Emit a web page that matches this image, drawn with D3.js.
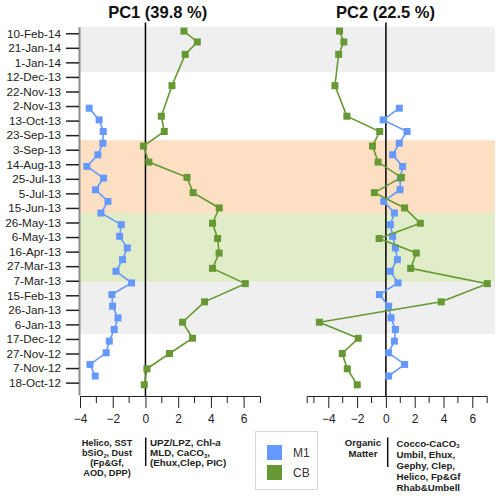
<!DOCTYPE html>
<html><head><meta charset="utf-8">
<script src="https://cdn.jsdelivr.net/npm/d3@7"></script>
<style>body{margin:0;background:#fff}svg{display:block;font-family:"Liberation Sans",Arial,sans-serif}</style>
</head><body><svg id="c" width="500" height="497"></svg>
<script>
// ---- data ----
const tickLabels = ["10-Feb-14","21-Jan-14","1-Jan-14","12-Dec-13","22-Nov-13","2-Nov-13","13-Oct-13","23-Sep-13","3-Sep-13","14-Aug-13","25-Jul-13","5-Jul-13","15-Jun-13","26-May-13","6-May-13","16-Apr-13","27-Mar-13","7-Mar-13","15-Feb-13","26-Jan-13","6-Jan-13","17-Dec-12","27-Nov-12","7-Nov-12","18-Oct-12"];
const m1Dates = ["2013-10-30","2013-10-14","2013-09-28","2013-09-12","2013-08-27","2013-08-11","2013-07-26","2013-07-10","2013-06-24","2013-06-08","2013-05-23","2013-05-07","2013-04-21","2013-04-05","2013-03-20","2013-03-04","2013-02-16","2013-01-31","2013-01-15","2012-12-30","2012-12-14","2012-11-28","2012-11-12","2012-10-27"];
const m1PC1 = [-3.44,-2.83,-2.58,-2.60,-2.91,-3.58,-2.56,-3.05,-2.29,-2.72,-1.48,-1.58,-1.11,-1.40,-1.80,-0.85,-2.05,-2.01,-1.68,-1.91,-2.21,-2.40,-3.39,-3.07];
const m1PC2 = [0.93,-0.19,1.47,0.93,0.47,1.16,1.00,0.98,-0.15,0.59,0.31,0.47,0.66,0.80,0.31,0.84,-0.45,0.19,0.36,0.66,0.59,0.19,1.30,0.19];
const cbDates = ["2014-02-13","2014-01-29","2014-01-12","2013-11-30","2013-10-19","2013-09-28","2013-09-08","2013-08-17","2013-07-27","2013-07-06","2013-06-15","2013-05-25","2013-05-04","2013-04-14","2013-03-24","2013-03-03","2013-02-06","2013-01-09","2012-12-18","2012-11-27","2012-11-06","2012-10-15"];
const cbPC1 = [2.35,3.17,2.43,1.62,0.97,1.15,-0.12,0.21,2.54,2.91,4.51,4.10,4.41,4.50,4.10,6.10,3.61,2.27,2.88,1.47,0.09,-0.07];
const cbPC2 = [-3.22,-2.92,-3.28,-3.54,-2.71,-0.43,-0.93,-0.54,1.07,-0.80,1.30,2.39,-0.47,2.11,1.72,7.04,3.84,-4.62,-1.92,-3.03,-2.68,-1.99];
const bandStart = ["2013-12-19","2013-06-08","2013-03-05","2012-12-24"];
const bandEnd   = ["2014-02-19","2013-09-16","2013-06-08","2013-03-05"];
const bandColor = ["#efefef","#fde0c4","#e1edc8","#efefef"];
const seriesNames = ["M1","CB"];
const seriesColors = ["#6699ff","#669933"];
const titles = ["PC1 (39.8 %)","PC2 (22.5 %)"];

// ---- scales ----
const pd = d3.utcParse("%Y-%m-%d");
const pt = d3.utcParse("%d-%b-%y");
const fmt = d3.utcFormat("%-d-%b-%y");
const y = d3.scaleUtc().domain([pd("2012-10-01"), pd("2014-02-19")]).range([395, 26.7]);
const x1 = d3.scaleLinear().domain([-4, 7]).range([80, 260]);
const x2 = d3.scaleLinear().domain([-5.5, 7]).range([306.7, 486.7]);
const svg = d3.select("#c");

// bands
svg.append("g").selectAll("rect").data(bandStart).join("rect")
  .attr("x", 80).attr("width", 415)
  .attr("y", (d,i) => y(pd(bandEnd[i])))
  .attr("height", (d,i) => y(pd(d)) - y(pd(bandEnd[i])))
  .attr("fill", (d,i) => bandColor[i]);

// y axis
const ya = svg.append("g").attr("transform","translate(79,0)")
  .call(d3.axisLeft(y).tickValues(tickLabels.map(pt)).tickFormat(fmt).tickSize(13).tickPadding(5).tickSizeOuter(0));
ya.select(".domain").attr("stroke","#8c8c8c").attr("stroke-width",2);
ya.selectAll(".tick line").attr("stroke","#222").attr("stroke-width",1.5);
ya.selectAll(".tick text").attr("font-size","11.7px").attr("fill","#222").attr("font-family","Liberation Sans, Arial, sans-serif");

// x axes
function xAxis(sc, majors, minors){
  const g = svg.append("g").attr("transform","translate(0,396)");
  g.call(d3.axisBottom(sc).tickValues(majors).tickSize(12).tickPadding(6).tickSizeOuter(7).tickFormat(d3.format("d")));
  g.selectAll(".tick text").attr("font-size","12px").attr("fill","#222").attr("font-family","Liberation Sans, Arial, sans-serif");
  g.selectAll(".tick line").attr("stroke","#222");
  g.select(".domain").attr("stroke","#222");
  g.append("g").selectAll("line").data(minors).join("line")
    .attr("x1", d => sc(d)).attr("x2", d => sc(d)).attr("y1",0).attr("y2",7).attr("stroke","#222");
}
xAxis(x1, [-4,-2,0,2,4,6], [-3,-1,1,3,5]);
xAxis(x2, [-4,-2,0,2,4,6], [-5,-3,-1,1,3,5]);

// zero lines
[x1, x2].forEach(sc => {
  svg.append("line").attr("x1", sc(0)).attr("x2", sc(0)).attr("y1", 22.5).attr("y2", 396)
    .attr("stroke","#000").attr("stroke-width",1.5);
});

// titles
[[x1,0],[x2,1]].forEach(([sc,i]) => {
  svg.append("text").attr("x", i===0 ? 157.7 : 385.5).attr("y", 18).attr("text-anchor","middle")
    .attr("font-size","16.5px").attr("font-weight","bold").attr("fill","#111").text(titles[i]);
});

// series
function drawSeries(sc, dates, vals, color){
  const pts = dates.map((d,i) => [sc(vals[i]), y(pd(d))]);
  svg.append("path").attr("d", d3.line()(pts)).attr("fill","none").attr("stroke",color).attr("stroke-width",1.6);
  svg.append("g").selectAll("rect").data(pts).join("rect")
    .attr("x", p => p[0]-3.5).attr("y", p => p[1]-3.5).attr("width",7).attr("height",7).attr("fill",color);
}
drawSeries(x1, m1Dates, m1PC1, seriesColors[0]);
drawSeries(x1, cbDates, cbPC1, seriesColors[1]);
drawSeries(x2, m1Dates, m1PC2, seriesColors[0]);
drawSeries(x2, cbDates, cbPC2, seriesColors[1]);

// annotations
function lines(x, y0, dy, anchor, size, arr){
  const t = svg.append("text").attr("text-anchor", anchor).attr("font-size", size+"px").attr("font-weight","bold").attr("fill","#222");
  arr.forEach((parts, i) => {
    const line = t.append("tspan").attr("x", x).attr("y", y0 + i*dy);
    parts.forEach(p => {
      const s = line.append("tspan").text(p.t);
      if (p.it) s.attr("font-style","italic");
      if (p.sub) s.attr("font-size", (size*0.6)+"px").attr("dy", 1.5);
      if (p.up) s.attr("dy", -1.5);
    });
  });
}
lines(107, 446, 10, "middle", 9.2, [[{t:"Helico, SST"}],[{t:"bSiO"},{t:"2",sub:1},{t:", Dust",up:1}],[{t:"(Fp&Gf,"}],[{t:"AOD, DPP)"}]]);
lines(150, 446, 10, "start", 9.8, [[{t:"UPZ/LPZ, Chl-"},{t:"a",it:1}],[{t:"MLD, CaCO"},{t:"3",sub:1},{t:",",up:1}],[{t:"(Ehux,Clep, PIC)"}]]);
lines(363, 445.5, 11.5, "middle", 9.6, [[{t:"Organic"}],[{t:"Matter"}]]);
lines(396.5, 446.5, 11.2, "start", 9.7, [[{t:"Cocco-CaCO"},{t:"3",sub:1}],[{t:"Umbil, Ehux,"}],[{t:"Gephy, Clep,"}],[{t:"Helico, Fp&Gf"}],[{t:"Rhab&Umbell"}]]);
svg.append("line").attr("x1",145.7).attr("x2",145.7).attr("y1",437.5).attr("y2",466).attr("stroke","#111").attr("stroke-width",1.5);
svg.append("line").attr("x1",387.7).attr("x2",387.7).attr("y1",437.5).attr("y2",467).attr("stroke","#111").attr("stroke-width",1.5);

// legend
const lg = svg.append("g");
lg.append("rect").attr("x",255.5).attr("y",431.5).attr("width",62).attr("height",58).attr("fill","#fff").attr("stroke","#d9d9d9");
seriesNames.forEach((n,i) => {
  lg.append("rect").attr("x",267).attr("y",445+i*20).attr("width",15).attr("height",15).attr("fill",seriesColors[i]);
  lg.append("text").attr("x",293).attr("y",457+i*20).attr("font-size","12px").attr("fill","#333").text(n);
});
</script></body></html>
